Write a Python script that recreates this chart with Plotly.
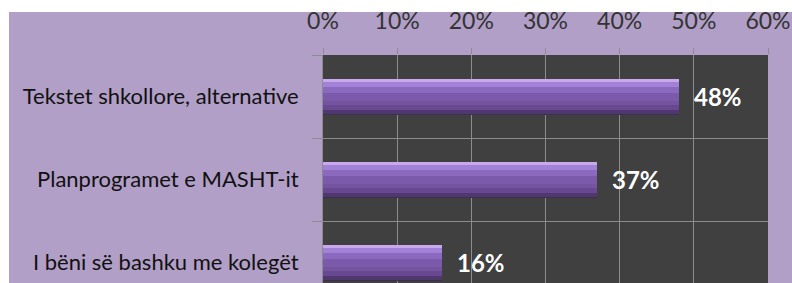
import plotly.graph_objects as go

categories = ["Tekstet shkollore, alternative", "Planprogramet e MASHT-it", "I bëni së bashku me kolegët"]
values = [0.48, 0.37, 0.16]
value_labels = ["48%", "37%", "16%"]
tick_vals = [0, 0.1, 0.2, 0.3, 0.4, 0.5, 0.6]
tick_text = ["0%", "10%", "20%", "30%", "40%", "50%", "60%"]

W, H = 792, 283
L, R, T, B = 323, 24, 55, 0
FONT = "Lato"

fig = go.Figure()

# bevelled bar look built from overlaid bands (offset, width, color)
bands = [
    (-0.215, 0.44, "#3a3050"),   # soft shadow
    (-0.21, 0.42, "#74539f"),    # body
    (-0.21, 0.04, "#c9a8ee"),    # top highlight
    (-0.17, 0.05, "#a282d6"),
    (-0.12, 0.08, "#8a69bf"),
    (-0.04, 0.10, "#7b5aac"),
    (0.10, 0.06, "#674891"),
    (0.16, 0.05, "#50376f"),
]
for off, wd, col in bands:
    fig.add_trace(go.Bar(
        x=values, y=categories, orientation="h",
        offset=off, width=wd,
        marker=dict(color=col, line=dict(width=0)),
        hoverinfo="skip", showlegend=False,
    ))

for c, v, lab in zip(categories, values, value_labels):
    fig.add_annotation(x=v, y=c, text="<b>%s</b>" % lab, showarrow=False,
                       xanchor="left", xshift=13, yshift=0,
                       font=dict(family=FONT, size=24, color="white"))

plot_h = H - T - B
plot_w = W - L - R
# white strips at the top and left edges of the picture
fig.add_shape(type="rect", xref="paper", yref="paper",
              x0=-L / plot_w - 0.1, x1=1 + R / plot_w + 0.1,
              y0=1 + (T - 12) / plot_h, y1=1 + T / plot_h + 0.1,
              fillcolor="white", line=dict(width=0), layer="above")
fig.add_shape(type="rect", xref="paper", yref="paper",
              x0=-L / plot_w - 0.1, x1=-(L - 9) / plot_w,
              y0=-0.1, y1=1 + T / plot_h + 0.1,
              fillcolor="white", line=dict(width=0), layer="above")

fig.update_layout(
    width=W, height=H,
    margin=dict(l=L, r=R, t=T, b=B, pad=0),
    paper_bgcolor="#b19fc7",
    plot_bgcolor="#404040",
    barmode="overlay",
    bargap=0,
    font=dict(family=FONT, size=21, color="#2b2b2b"),
    xaxis=dict(
        side="top", range=[0, 0.6], tickvals=tick_vals, ticktext=tick_text,
        showgrid=True, gridcolor="#8c8c8c", gridwidth=1,
        ticks="outside", ticklen=6, tickcolor="#8c8c8c",
        showline=False, zeroline=False, ticklabelstandoff=10,
        tickfont=dict(family=FONT, size=23, color="#333333"),
    ),
    yaxis=dict(
        type="category", categoryorder="array", categoryarray=categories,
        range=[2.247, -0.5], tickson="boundaries",
        showgrid=True, gridcolor="#8c8c8c", gridwidth=1,
        ticks="outside", ticklen=10, tickcolor="#8c8c8c",
        showline=True, linecolor="#8c8c8c", linewidth=1,
        zeroline=False, ticklabelstandoff=19,
        tickfont=dict(family=FONT, size=22, color="#111111"),
    ),
)

fig.write_html("out.html", config={"displayModeBar": False},
               post_script="document.body.style.margin='0';")
